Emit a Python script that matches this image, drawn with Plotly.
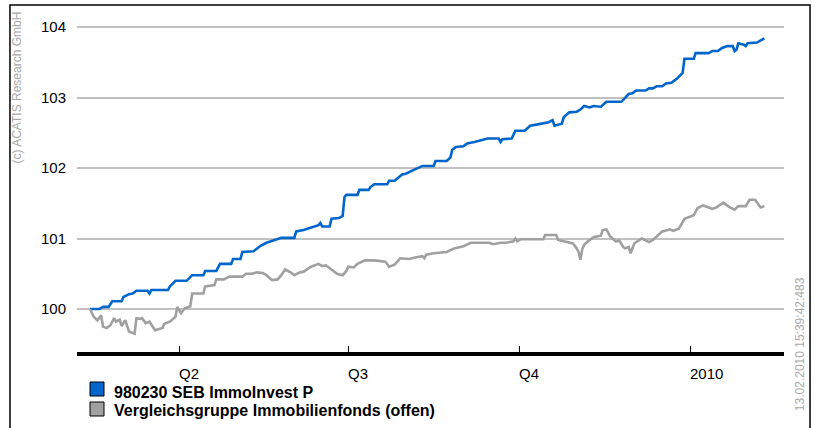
import plotly.graph_objects as go

# ---- data ----
fund_dates = [
    "2009-02-12", "2009-02-17", "2009-02-19", "2009-02-22", "2009-02-24", "2009-03-01",
    "2009-03-02", "2009-03-05", "2009-03-07", "2009-03-09", "2009-03-15", "2009-03-16",
    "2009-03-17", "2009-03-26", "2009-03-27", "2009-03-30", "2009-04-05", "2009-04-08",
    "2009-04-14", "2009-04-15", "2009-04-21", "2009-04-23", "2009-04-29", "2009-04-30",
    "2009-05-04", "2009-05-05", "2009-05-11", "2009-05-13", "2009-05-15", "2009-05-18",
    "2009-05-22", "2009-05-26", "2009-06-02", "2009-06-03", "2009-06-07", "2009-06-11",
    "2009-06-15", "2009-06-16", "2009-06-17", "2009-06-21", "2009-06-22", "2009-06-26",
    "2009-06-28", "2009-06-29", "2009-06-30", "2009-07-06", "2009-07-07", "2009-07-12",
    "2009-07-13", "2009-07-15", "2009-07-22", "2009-07-23", "2009-07-26", "2009-07-30",
    "2009-08-01", "2009-08-05", "2009-08-10", "2009-08-11", "2009-08-16", "2009-08-17",
    "2009-08-23", "2009-08-25", "2009-08-26", "2009-08-28", "2009-09-01", "2009-09-03",
    "2009-09-07", "2009-09-14", "2009-09-20", "2009-09-21", "2009-09-22", "2009-09-27",
    "2009-09-29", "2009-10-04", "2009-10-07", "2009-10-11", "2009-10-17", "2009-10-19",
    "2009-10-20", "2009-10-24", "2009-10-25", "2009-10-28", "2009-11-01", "2009-11-03",
    "2009-11-05", "2009-11-08", "2009-11-10", "2009-11-14", "2009-11-17", "2009-11-25",
    "2009-11-29", "2009-12-01", "2009-12-03", "2009-12-08", "2009-12-10", "2009-12-12",
    "2009-12-14", "2009-12-17", "2009-12-19", "2009-12-22", "2009-12-25", "2009-12-28",
    "2009-12-29", "2010-01-03", "2010-01-04", "2010-01-11", "2010-01-13", "2010-01-16",
    "2010-01-18", "2010-01-21", "2010-01-24", "2010-01-25", "2010-01-26", "2010-01-27",
    "2010-01-30", "2010-01-31", "2010-02-01", "2010-02-06", "2010-02-08", "2010-02-10",
]
fund_values = [
    100.00, 100.00, 100.03, 100.03, 100.11, 100.11,
    100.17, 100.21, 100.22, 100.26, 100.26, 100.22,
    100.27, 100.27, 100.32, 100.40, 100.40, 100.48,
    100.48, 100.54, 100.54, 100.64, 100.64, 100.71,
    100.71, 100.81, 100.82, 100.86, 100.90, 100.94,
    100.97, 101.01, 101.01, 101.10, 101.12, 101.16,
    101.19, 101.22, 101.17, 101.17, 101.28, 101.29,
    101.32, 101.59, 101.62, 101.62, 101.69, 101.69,
    101.73, 101.77, 101.77, 101.82, 101.82, 101.91,
    101.92, 101.97, 102.03, 102.03, 102.03, 102.10,
    102.10, 102.15, 102.26, 102.30, 102.31, 102.35,
    102.37, 102.42, 102.42, 102.37, 102.41, 102.42,
    102.53, 102.53, 102.60, 102.62, 102.65, 102.68,
    102.60, 102.63, 102.72, 102.79, 102.80, 102.83,
    102.88, 102.86, 102.88, 102.87, 102.94, 102.94,
    103.05, 103.06, 103.10, 103.10, 103.13, 103.13,
    103.16, 103.16, 103.20, 103.21, 103.27, 103.35,
    103.55, 103.55, 103.63, 103.63, 103.66, 103.66,
    103.70, 103.73, 103.73, 103.66, 103.68, 103.77,
    103.75, 103.73, 103.77, 103.78, 103.81, 103.84,
]

peer_dates = [
    "2009-02-12", "2009-02-14", "2009-02-16", "2009-02-18", "2009-02-19", "2009-02-21",
    "2009-02-23", "2009-02-25", "2009-02-26", "2009-02-28", "2009-03-01", "2009-03-03",
    "2009-03-05", "2009-03-08", "2009-03-09", "2009-03-11", "2009-03-12", "2009-03-14",
    "2009-03-16", "2009-03-17", "2009-03-18", "2009-03-19", "2009-03-23", "2009-03-24",
    "2009-03-27", "2009-03-30", "2009-03-31", "2009-04-02", "2009-04-04", "2009-04-07",
    "2009-04-08", "2009-04-14", "2009-04-15", "2009-04-20", "2009-04-21", "2009-04-25",
    "2009-04-28", "2009-05-05", "2009-05-07", "2009-05-10", "2009-05-13", "2009-05-16",
    "2009-05-18", "2009-05-21", "2009-05-24", "2009-05-26", "2009-05-28", "2009-05-31",
    "2009-06-02", "2009-06-05", "2009-06-07", "2009-06-11", "2009-06-15", "2009-06-17",
    "2009-06-19", "2009-06-21", "2009-06-23", "2009-06-25", "2009-06-28", "2009-06-30",
    "2009-07-01", "2009-07-04", "2009-07-06", "2009-07-09", "2009-07-10", "2009-07-15",
    "2009-07-18", "2009-07-21", "2009-07-23", "2009-07-25", "2009-07-26", "2009-07-29",
    "2009-08-01", "2009-08-03", "2009-08-06", "2009-08-10", "2009-08-11", "2009-08-12",
    "2009-08-16", "2009-08-23", "2009-08-27", "2009-09-01", "2009-09-05", "2009-09-08",
    "2009-09-12", "2009-09-15", "2009-09-17", "2009-09-21", "2009-09-24", "2009-09-28",
    "2009-09-29", "2009-09-30", "2009-10-02", "2009-10-14", "2009-10-15", "2009-10-21",
    "2009-10-22", "2009-10-25", "2009-10-27", "2009-10-30", "2009-11-01", "2009-11-02",
    "2009-11-03", "2009-11-04", "2009-11-05", "2009-11-07", "2009-11-10", "2009-11-14",
    "2009-11-15", "2009-11-17", "2009-11-19", "2009-11-22", "2009-11-24", "2009-11-26",
    "2009-11-27", "2009-11-29", "2009-11-30", "2009-12-02", "2009-12-06", "2009-12-10",
    "2009-12-12", "2009-12-14", "2009-12-17", "2009-12-20", "2009-12-21", "2009-12-23",
    "2009-12-26", "2009-12-29", "2010-01-01", "2010-01-03", "2010-01-05", "2010-01-08",
    "2010-01-10", "2010-01-13", "2010-01-15", "2010-01-19", "2010-01-22", "2010-01-25",
    "2010-01-27", "2010-01-31", "2010-02-02", "2010-02-05", "2010-02-08", "2010-02-10",
]
peer_values = [
    100.00, 99.89, 99.84, 99.91, 99.75, 99.73,
    99.77, 99.87, 99.82, 99.85, 99.76, 99.84,
    99.68, 99.65, 99.87, 99.86, 99.87, 99.80,
    99.82, 99.78, 99.75, 99.70, 99.73, 99.79,
    99.82, 99.89, 100.03, 99.94, 100.01, 100.04,
    100.22, 100.22, 100.32, 100.34, 100.42, 100.42,
    100.46, 100.46, 100.50, 100.50, 100.52, 100.51,
    100.48, 100.41, 100.42, 100.48, 100.56, 100.52,
    100.48, 100.52, 100.53, 100.60, 100.64, 100.61,
    100.62, 100.58, 100.55, 100.50, 100.48, 100.54,
    100.60, 100.59, 100.64, 100.67, 100.69, 100.69,
    100.68, 100.67, 100.60, 100.62, 100.63, 100.72,
    100.71, 100.71, 100.73, 100.75, 100.72, 100.77,
    100.79, 100.81, 100.86, 100.89, 100.94, 100.94,
    100.93, 100.94, 100.92, 100.94, 100.94, 100.96,
    101.00, 100.96, 100.99, 100.99, 101.05, 101.05,
    100.98, 100.96, 100.95, 100.93, 100.86, 100.81,
    100.70, 100.85, 100.91, 100.96, 101.02, 101.04,
    101.12, 101.13, 101.03, 100.96, 100.97, 100.88,
    100.86, 100.88, 100.79, 100.93, 101.00, 100.95,
    100.98, 101.03, 101.10, 101.12, 101.13, 101.11,
    101.14, 101.28, 101.31, 101.33, 101.43, 101.47,
    101.45, 101.42, 101.44, 101.51, 101.45, 101.41,
    101.46, 101.46, 101.55, 101.55, 101.44, 101.46,
]

series_names = ["980230 SEB ImmoInvest P", "Vergleichsgruppe Immobilienfonds (offen)"]
series_colors = ["#0066cc", "#a0a0a0"]

tick_dates = ["2009-04-01", "2009-07-01", "2009-10-01", "2010-01-01"]
tick_labels = ["Q2", "Q3", "Q4", "2010"]
y_ticks = [100, 101, 102, 103, 104]

FONT = "Liberation Sans, Arial, Helvetica, sans-serif"

fig = go.Figure()
fig.add_trace(go.Scatter(x=fund_dates, y=fund_values, mode="lines", name=series_names[0],
                         line=dict(color=series_colors[0], width=2.6),
                         showlegend=False, hoverinfo="skip"))
fig.add_trace(go.Scatter(x=peer_dates, y=peer_values, mode="lines", name=series_names[1],
                         line=dict(color=series_colors[1], width=2.6),
                         showlegend=False, hoverinfo="skip"))

annotations = []
shapes = []
for d, t in zip(tick_dates, tick_labels):
    annotations.append(dict(x=d, xref="x", y=-0.063, yref="paper", text=t,
                            showarrow=False, xanchor="left", yanchor="middle",
                            xshift=-2,
                            font=dict(family=FONT, size=15, color="#000000")))
annotations.append(dict(x=-0.085, xref="paper", y=0.78, yref="paper",
                        text="(c) ACATIS Research GmbH", textangle=-90, showarrow=False,
                        xanchor="center", yanchor="middle",
                        font=dict(family=FONT, size=12, color="#a8a8a8")))
annotations.append(dict(x=1.023, xref="paper", y=0.024, yref="paper",
                        text="13.02.2010 15:39:42:483", textangle=-90, showarrow=False,
                        xanchor="center", yanchor="middle",
                        font=dict(family=FONT, size=12, color="#a8a8a8")))

# legend (swatch squares + bold labels) below the plot, left aligned
leg_rows = [(-0.0885, -0.1298, -0.118), (-0.1475, -0.1888, -0.1726)]
for (name, col), (y1, y0, yt) in zip(zip(series_names, series_colors), leg_rows):
    shapes.append(dict(type="rect", xref="paper", yref="paper",
                       x0=0.0184, x1=0.0382, y0=y0, y1=y1,
                       line=dict(color="#000000", width=1), fillcolor=col))
    annotations.append(dict(x=0.0495, xref="paper", y=yt, yref="paper", text="<b>%s</b>" % name,
                            showarrow=False, xanchor="left", yanchor="middle",
                            font=dict(family=FONT, size=16, color="#000000")))

shapes.append(dict(type="rect", xref="paper", yref="paper",
                   x0=-0.0948, x1=1.0368, y0=-0.3, y1=1.0236,
                   line=dict(color="#000000", width=1.5), fillcolor="rgba(0,0,0,0)",
                   layer="below"))

fig.update_layout(
    width=815, height=428,
    margin=dict(l=77, r=31, t=13, b=76, autoexpand=False),
    paper_bgcolor="white", plot_bgcolor="white",
    font=dict(family=FONT, size=15, color="#000000"),
    showlegend=False,
    annotations=annotations,
    shapes=shapes,
)
fig.update_xaxes(type="date", range=["2009-02-05", "2010-02-20 14:00"],
                 tickvals=tick_dates, ticktext=["", "", "", ""],
                 ticks="inside", ticklen=6, tickwidth=1, tickcolor="#000000",
                 showline=True, linecolor="#000000", linewidth=4,
                 showgrid=False, zeroline=False)
fig.update_yaxes(range=[99.39, 104.2], tickvals=y_ticks,
                 showgrid=True, gridcolor="#c0c0c0", gridwidth=1.5,
                 showline=False, zeroline=False, ticks="",
                 ticklabelstandoff=10,
                 tickfont=dict(family=FONT, size=15, color="#000000"))

fig.write_html("out.html", config={"displayModeBar": False},
               post_script="document.body.style.margin='0px';document.body.style.overflow='hidden';")
